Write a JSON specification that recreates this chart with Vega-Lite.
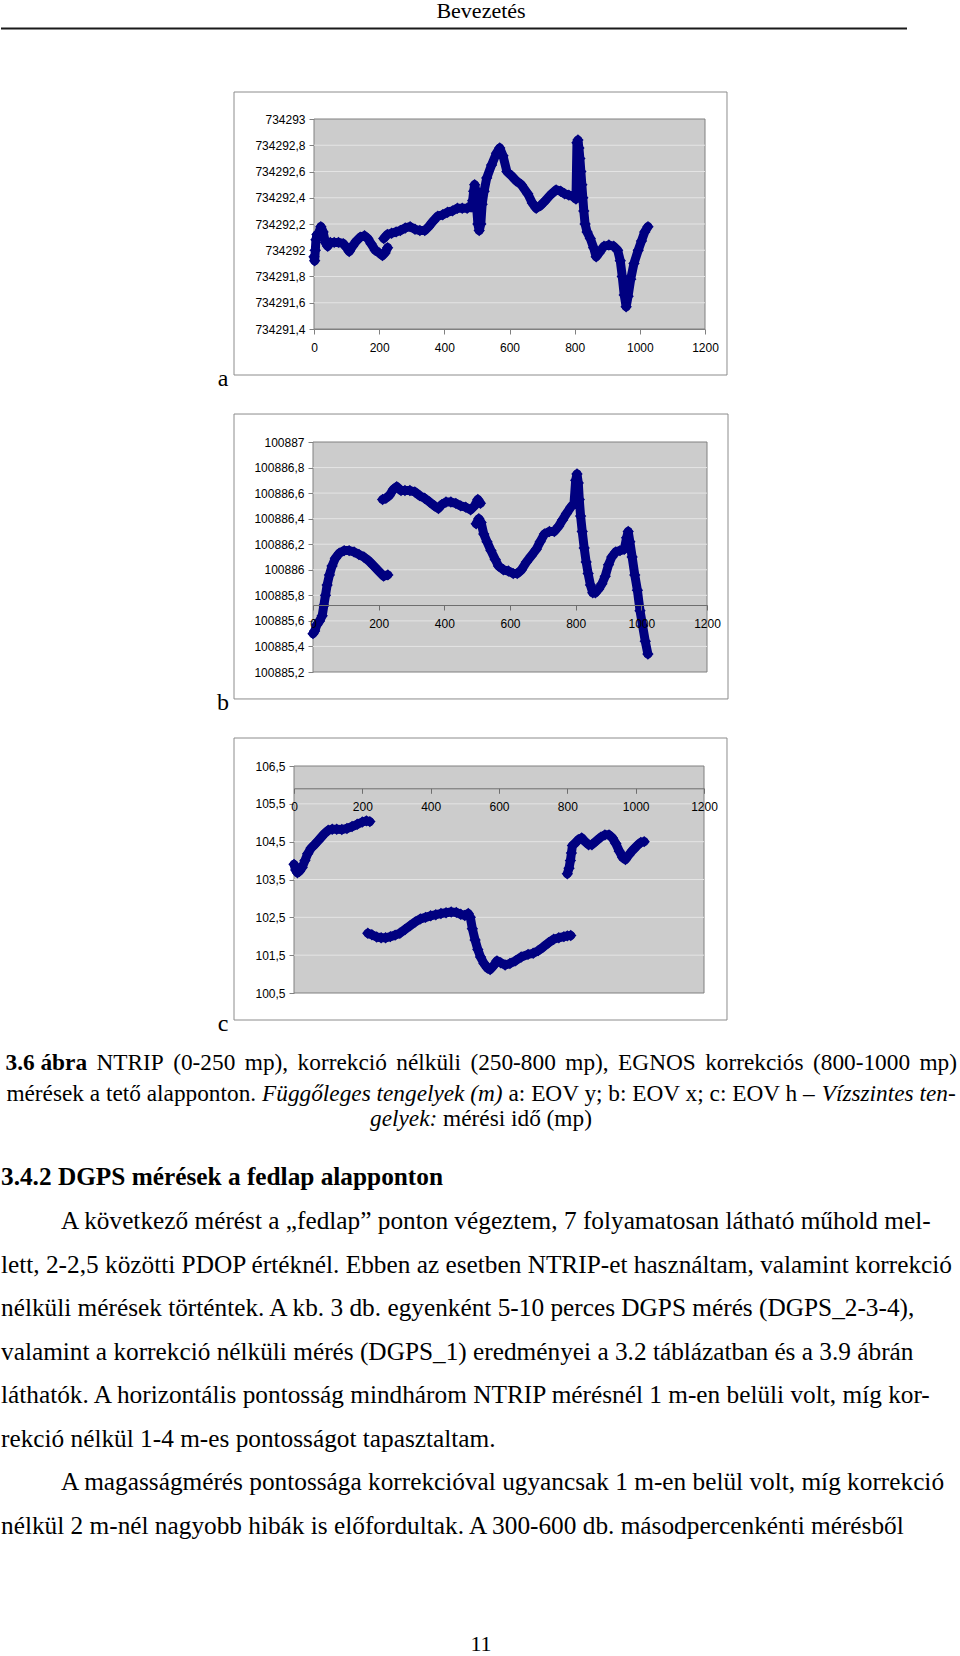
{
  "$schema": "https://vega.github.io/schema/vega-lite/v6.json",
  "background": "white",
  "padding": 0,
  "bounds": "flush",
  "spacing": 0,
  "config": {"view": {"stroke": null}, "axis": {"labelOverlap": false, "labelFlush": false, "labelFont": "Liberation Sans", "labelFontSize": 12, "labelColor": "#000", "tickSize": 5, "tickCount": 30}},
  "datasets": {
    "a": [
      {"seg":1,"t":0,"v":734291.95},{"seg":1,"t":2,"v":734291.92},{"seg":1,"t":4,"v":734292.0},{"seg":1,"t":6,"v":734292.08},{"seg":1,"t":9,"v":734292.12},{"seg":1,"t":14,"v":734292.13},{"seg":1,"t":21,"v":734292.18},{"seg":1,"t":28,"v":734292.14},{"seg":1,"t":35,"v":734292.06},{"seg":1,"t":42,"v":734292.03},{"seg":1,"t":50,"v":734292.06},{"seg":1,"t":62,"v":734292.06},{"seg":1,"t":75,"v":734292.06},{"seg":1,"t":90,"v":734292.05},{"seg":1,"t":100,"v":734292.02},{"seg":1,"t":108,"v":734291.99},{"seg":1,"t":118,"v":734292.03},{"seg":1,"t":130,"v":734292.07},{"seg":1,"t":142,"v":734292.1},{"seg":1,"t":155,"v":734292.11},{"seg":1,"t":165,"v":734292.09},{"seg":1,"t":175,"v":734292.05},{"seg":1,"t":188,"v":734292.0},{"seg":1,"t":200,"v":734291.98},{"seg":1,"t":210,"v":734291.96},{"seg":1,"t":218,"v":734291.98},{"seg":1,"t":226,"v":734292.02},
      {"seg":2,"t":214,"v":734292.09},{"seg":2,"t":225,"v":734292.12},{"seg":2,"t":238,"v":734292.13},{"seg":2,"t":252,"v":734292.14},{"seg":2,"t":265,"v":734292.15},{"seg":2,"t":280,"v":734292.17},{"seg":2,"t":295,"v":734292.18},{"seg":2,"t":310,"v":734292.16},{"seg":2,"t":325,"v":734292.15},{"seg":2,"t":340,"v":734292.15},{"seg":2,"t":352,"v":734292.18},{"seg":2,"t":365,"v":734292.22},{"seg":2,"t":380,"v":734292.26},{"seg":2,"t":395,"v":734292.27},{"seg":2,"t":410,"v":734292.29},{"seg":2,"t":425,"v":734292.3},{"seg":2,"t":440,"v":734292.32},{"seg":2,"t":455,"v":734292.32},{"seg":2,"t":470,"v":734292.32},{"seg":2,"t":482,"v":734292.33},{"seg":2,"t":487,"v":734292.38},{"seg":2,"t":490,"v":734292.45},{"seg":2,"t":493,"v":734292.5},{"seg":2,"t":497,"v":734292.45},{"seg":2,"t":500,"v":734292.3},{"seg":2,"t":503,"v":734292.2},{"seg":2,"t":507,"v":734292.15},{"seg":2,"t":512,"v":734292.2},{"seg":2,"t":516,"v":734292.35},{"seg":2,"t":522,"v":734292.45},{"seg":2,"t":530,"v":734292.55},{"seg":2,"t":545,"v":734292.65},{"seg":2,"t":560,"v":734292.74},{"seg":2,"t":570,"v":734292.78},{"seg":2,"t":580,"v":734292.72},{"seg":2,"t":592,"v":734292.6},{"seg":2,"t":605,"v":734292.57},{"seg":2,"t":620,"v":734292.53},{"seg":2,"t":636,"v":734292.5},{"seg":2,"t":656,"v":734292.43},{"seg":2,"t":670,"v":734292.36},{"seg":2,"t":682,"v":734292.32},{"seg":2,"t":695,"v":734292.34},{"seg":2,"t":707,"v":734292.37},{"seg":2,"t":725,"v":734292.42},{"seg":2,"t":743,"v":734292.46},{"seg":2,"t":757,"v":734292.45},{"seg":2,"t":769,"v":734292.43},{"seg":2,"t":782,"v":734292.42},{"seg":2,"t":795,"v":734292.41},{"seg":2,"t":804,"v":734292.39},{"seg":2,"t":807,"v":734292.82},{"seg":2,"t":810,"v":734292.84},{"seg":2,"t":813,"v":734292.78},{"seg":2,"t":816,"v":734292.7},{"seg":2,"t":819,"v":734292.6},{"seg":2,"t":822,"v":734292.5},{"seg":2,"t":825,"v":734292.4},{"seg":2,"t":828,"v":734292.3},{"seg":2,"t":832,"v":734292.2},{"seg":2,"t":838,"v":734292.14},{"seg":2,"t":848,"v":734292.09},{"seg":2,"t":858,"v":734292.02},{"seg":2,"t":866,"v":734291.95},{"seg":2,"t":875,"v":734291.98},{"seg":2,"t":890,"v":734292.03},{"seg":2,"t":905,"v":734292.04},{"seg":2,"t":920,"v":734292.03},{"seg":2,"t":932,"v":734292.0},{"seg":2,"t":940,"v":734291.92},{"seg":2,"t":946,"v":734291.8},{"seg":2,"t":952,"v":734291.66},{"seg":2,"t":958,"v":734291.57},{"seg":2,"t":964,"v":734291.65},{"seg":2,"t":972,"v":734291.78},{"seg":2,"t":982,"v":734291.9},{"seg":2,"t":995,"v":734292.0},{"seg":2,"t":1005,"v":734292.07},{"seg":2,"t":1015,"v":734292.14},{"seg":2,"t":1025,"v":734292.18}
    ],
    "b": [
      {"seg":1,"t":0,"v":100885.5},{"seg":1,"t":5,"v":100885.52},{"seg":1,"t":12,"v":100885.57},{"seg":1,"t":20,"v":100885.6},{"seg":1,"t":28,"v":100885.64},{"seg":1,"t":33,"v":100885.72},{"seg":1,"t":38,"v":100885.8},{"seg":1,"t":43,"v":100885.88},{"seg":1,"t":50,"v":100885.96},{"seg":1,"t":58,"v":100886.03},{"seg":1,"t":68,"v":100886.09},{"seg":1,"t":80,"v":100886.13},{"seg":1,"t":95,"v":100886.15},{"seg":1,"t":110,"v":100886.15},{"seg":1,"t":125,"v":100886.14},{"seg":1,"t":140,"v":100886.12},{"seg":1,"t":155,"v":100886.1},{"seg":1,"t":170,"v":100886.07},{"seg":1,"t":185,"v":100886.03},{"seg":1,"t":200,"v":100885.99},{"seg":1,"t":215,"v":100885.95},{"seg":1,"t":228,"v":100885.96},
      {"seg":2,"t":212,"v":100886.55},{"seg":2,"t":222,"v":100886.56},{"seg":2,"t":232,"v":100886.58},{"seg":2,"t":245,"v":100886.63},{"seg":2,"t":255,"v":100886.65},{"seg":2,"t":268,"v":100886.62},{"seg":2,"t":280,"v":100886.62},{"seg":2,"t":295,"v":100886.62},{"seg":2,"t":310,"v":100886.61},{"seg":2,"t":325,"v":100886.58},{"seg":2,"t":340,"v":100886.56},{"seg":2,"t":355,"v":100886.53},{"seg":2,"t":370,"v":100886.5},{"seg":2,"t":382,"v":100886.48},{"seg":2,"t":392,"v":100886.51},{"seg":2,"t":405,"v":100886.53},{"seg":2,"t":420,"v":100886.53},{"seg":2,"t":435,"v":100886.52},{"seg":2,"t":450,"v":100886.5},{"seg":2,"t":465,"v":100886.49},{"seg":2,"t":480,"v":100886.47},{"seg":2,"t":492,"v":100886.5},{"seg":2,"t":502,"v":100886.55},{"seg":2,"t":510,"v":100886.52},
      {"seg":3,"t":497,"v":100886.36},{"seg":3,"t":505,"v":100886.4},{"seg":3,"t":512,"v":100886.37},{"seg":3,"t":520,"v":100886.28},{"seg":3,"t":530,"v":100886.22},{"seg":3,"t":542,"v":100886.15},{"seg":3,"t":555,"v":100886.08},{"seg":3,"t":565,"v":100886.03},{"seg":3,"t":580,"v":100886.0},{"seg":3,"t":595,"v":100885.99},{"seg":3,"t":610,"v":100885.97},{"seg":3,"t":622,"v":100885.97},{"seg":3,"t":635,"v":100886.0},{"seg":3,"t":650,"v":100886.06},{"seg":3,"t":665,"v":100886.11},{"seg":3,"t":680,"v":100886.16},{"seg":3,"t":692,"v":100886.22},{"seg":3,"t":705,"v":100886.28},{"seg":3,"t":720,"v":100886.3},{"seg":3,"t":735,"v":100886.3},{"seg":3,"t":748,"v":100886.34},{"seg":3,"t":760,"v":100886.39},{"seg":3,"t":772,"v":100886.44},{"seg":3,"t":785,"v":100886.49},{"seg":3,"t":795,"v":100886.52},{"seg":3,"t":800,"v":100886.7},{"seg":3,"t":804,"v":100886.75},{"seg":3,"t":808,"v":100886.68},{"seg":3,"t":811,"v":100886.55},{"seg":3,"t":815,"v":100886.42},{"seg":3,"t":820,"v":100886.3},{"seg":3,"t":826,"v":100886.17},{"seg":3,"t":832,"v":100886.06},{"seg":3,"t":838,"v":100885.97},{"seg":3,"t":845,"v":100885.88},{"seg":3,"t":852,"v":100885.82},{"seg":3,"t":860,"v":100885.82},{"seg":3,"t":870,"v":100885.85},{"seg":3,"t":880,"v":100885.89},{"seg":3,"t":890,"v":100885.95},{"seg":3,"t":900,"v":100886.04},{"seg":3,"t":910,"v":100886.1},{"seg":3,"t":922,"v":100886.14},{"seg":3,"t":935,"v":100886.15},{"seg":3,"t":948,"v":100886.16},{"seg":3,"t":955,"v":100886.25},{"seg":3,"t":960,"v":100886.3},{"seg":3,"t":965,"v":100886.22},{"seg":3,"t":972,"v":100886.1},{"seg":3,"t":980,"v":100885.96},{"seg":3,"t":988,"v":100885.84},{"seg":3,"t":996,"v":100885.68},{"seg":3,"t":1004,"v":100885.56},{"seg":3,"t":1012,"v":100885.44},{"seg":3,"t":1020,"v":100885.34}
    ],
    "c": [
      {"seg":1,"t":0,"v":103.9},{"seg":1,"t":5,"v":103.75},{"seg":1,"t":10,"v":103.68},{"seg":1,"t":16,"v":103.72},{"seg":1,"t":24,"v":103.82},{"seg":1,"t":32,"v":104.0},{"seg":1,"t":40,"v":104.18},{"seg":1,"t":50,"v":104.33},{"seg":1,"t":60,"v":104.42},{"seg":1,"t":70,"v":104.52},{"seg":1,"t":80,"v":104.62},{"seg":1,"t":90,"v":104.72},{"seg":1,"t":100,"v":104.8},{"seg":1,"t":112,"v":104.83},{"seg":1,"t":125,"v":104.83},{"seg":1,"t":140,"v":104.82},{"seg":1,"t":155,"v":104.85},{"seg":1,"t":170,"v":104.9},{"seg":1,"t":185,"v":104.96},{"seg":1,"t":200,"v":105.02},{"seg":1,"t":212,"v":105.05},{"seg":1,"t":222,"v":105.03},
      {"seg":2,"t":216,"v":102.08},{"seg":2,"t":228,"v":102.04},{"seg":2,"t":242,"v":101.98},{"seg":2,"t":255,"v":101.96},{"seg":2,"t":268,"v":101.96},{"seg":2,"t":282,"v":101.99},{"seg":2,"t":296,"v":102.03},{"seg":2,"t":310,"v":102.08},{"seg":2,"t":325,"v":102.18},{"seg":2,"t":340,"v":102.28},{"seg":2,"t":355,"v":102.38},{"seg":2,"t":370,"v":102.46},{"seg":2,"t":385,"v":102.5},{"seg":2,"t":400,"v":102.54},{"seg":2,"t":415,"v":102.57},{"seg":2,"t":430,"v":102.6},{"seg":2,"t":445,"v":102.62},{"seg":2,"t":460,"v":102.64},{"seg":2,"t":475,"v":102.63},{"seg":2,"t":488,"v":102.58},{"seg":2,"t":500,"v":102.55},{"seg":2,"t":510,"v":102.6},{"seg":2,"t":516,"v":102.5},{"seg":2,"t":522,"v":102.2},{"seg":2,"t":530,"v":101.9},{"seg":2,"t":538,"v":101.65},{"seg":2,"t":546,"v":101.45},{"seg":2,"t":556,"v":101.28},{"seg":2,"t":566,"v":101.16},{"seg":2,"t":574,"v":101.12},{"seg":2,"t":584,"v":101.22},{"seg":2,"t":594,"v":101.35},{"seg":2,"t":605,"v":101.3},{"seg":2,"t":618,"v":101.24},{"seg":2,"t":632,"v":101.28},{"seg":2,"t":648,"v":101.35},{"seg":2,"t":665,"v":101.45},{"seg":2,"t":685,"v":101.52},{"seg":2,"t":700,"v":101.55},{"seg":2,"t":715,"v":101.62},{"seg":2,"t":730,"v":101.72},{"seg":2,"t":745,"v":101.83},{"seg":2,"t":760,"v":101.92},{"seg":2,"t":775,"v":101.96},{"seg":2,"t":790,"v":101.99},{"seg":2,"t":800,"v":102.01},{"seg":2,"t":810,"v":102.02},
      {"seg":3,"t":800,"v":103.65},{"seg":3,"t":805,"v":103.8},{"seg":3,"t":809,"v":104.0},{"seg":3,"t":812,"v":104.2},{"seg":3,"t":815,"v":104.4},{"seg":3,"t":822,"v":104.45},{"seg":3,"t":832,"v":104.55},{"seg":3,"t":842,"v":104.6},{"seg":3,"t":852,"v":104.5},{"seg":3,"t":862,"v":104.42},{"seg":3,"t":872,"v":104.42},{"seg":3,"t":885,"v":104.52},{"seg":3,"t":898,"v":104.62},{"seg":3,"t":910,"v":104.68},{"seg":3,"t":922,"v":104.68},{"seg":3,"t":932,"v":104.6},{"seg":3,"t":942,"v":104.45},{"seg":3,"t":952,"v":104.25},{"seg":3,"t":962,"v":104.08},{"seg":3,"t":970,"v":104.03},{"seg":3,"t":980,"v":104.15},{"seg":3,"t":992,"v":104.28},{"seg":3,"t":1005,"v":104.4},{"seg":3,"t":1015,"v":104.48},{"seg":3,"t":1025,"v":104.5}
    ]
  },
  "vconcat": [
    {
      "width": 960, "height": 119,
      "data": {"values": [{"text": "Bevezetés"}]},
      "layer": [
        {"mark": {"type": "text", "font": "Liberation Serif", "fontSize": 22, "baseline": "top", "align": "center", "x": 480, "y": 1, "color": "#000"}, "encoding": {"text": {"field": "text"}}},
        {"mark": {"type": "rule", "strokeWidth": 1.8, "color": "#1a1a1a"}, "encoding": {"x": {"value": 0}, "x2": {"value": 906}, "y": {"value": 28.5}}}
      ]
    },
    {
      "width": 960, "height": 210,
      "layer": [
        {"data": {"values": [{}]}, "mark": {"type": "rect", "fill": null, "stroke": "#8c8c8c", "strokeWidth": 1},
         "encoding": {
           "x": {"datum": -245.5, "type": "quantitative", "scale": {"domain": [0, 1200], "range": [313, 704], "nice": false, "zero": false}, "axis": {"values": [0,200,400,600,800,1000,1200], "tickCount": 30, "format": "d", "title": null, "grid": false, "zindex": 1, "domainColor": "#808080", "tickColor": "#808080", "labelPadding": 8, "labelOverlap": false}},
           "x2": {"datum": 1267.5},
           "y": {"datum": 734293.2057, "type": "quantitative", "scale": {"domain": [734291.4, 734293], "range": [210, 0], "nice": false, "zero": false}, "axis": {"values": [734291.4,734291.6,734291.8,734292,734292.2,734292.4,734292.6,734292.8,734293], "tickCount": 30, "offset": -313, "title": null, "grid": false, "domain": false, "tickColor": "#808080", "labelPadding": 4, "labelOverlap": false, "labelExpr": "replace(format(datum.value, '.1~f'), '.', ',')"}},
           "y2": {"datum": 734291.0495}
         }},
        {"data": {"values": [{}]}, "mark": {"type": "rect", "fill": "#cccccc", "stroke": "#808080", "strokeWidth": 1},
         "encoding": {"x": {"datum": 0, "type": "quantitative"}, "x2": {"datum": 1200}, "y": {"datum": 734291.4, "type": "quantitative"}, "y2": {"datum": 734293}}},
        {"data": {"values": [{"g": 734291.6},{"g": 734291.8},{"g": 734292},{"g": 734292.2},{"g": 734292.4},{"g": 734292.6},{"g": 734292.8}]}, "mark": {"type": "rule", "color": "#e4e4e4", "strokeWidth": 1},
         "encoding": {"x": {"datum": 0, "type": "quantitative"}, "x2": {"datum": 1200}, "y": {"field": "g", "type": "quantitative", "title": null}}},
        {"data": {"name": "a"}, "mark": {"type": "line", "color": "#000080", "strokeWidth": 9, "strokeJoin": "round", "strokeCap": "round"},
         "encoding": {"x": {"field": "t", "type": "quantitative", "title": null}, "y": {"field": "v", "type": "quantitative", "title": null}, "detail": {"field": "seg"}}},
        {"data": {"name": "a"}, "mark": {"type": "point", "shape": "diamond", "filled": true, "size": 130, "color": "#000080", "opacity": 1},
         "encoding": {"x": {"field": "t", "type": "quantitative", "title": null}, "y": {"field": "v", "type": "quantitative", "title": null}}}
      ]
    },
    {
      "width": 960, "height": 113,
      "data": {"values": [{"label": "a"}]},
      "mark": {"type": "text", "font": "Liberation Serif", "fontSize": 24, "align": "center", "baseline": "alphabetic", "x": 222, "y": 57, "color": "#000"},
      "encoding": {"text": {"field": "label"}}
    },
    {
      "width": 960, "height": 230,
      "layer": [
        {"data": {"values": [{}]}, "mark": {"type": "rect", "fill": null, "stroke": "#8c8c8c", "strokeWidth": 1},
         "encoding": {
           "x": {"datum": -240.6, "type": "quantitative", "scale": {"domain": [0, 1200], "range": [312, 706], "nice": false, "zero": false}, "axis": {"values": [0,200,400,600,800,1000,1200], "tickCount": 30, "format": "d", "title": null, "grid": false, "offset": -67, "zindex": 1, "domainColor": "#6e6e6e", "tickColor": "#6e6e6e", "labelPadding": 8, "labelOverlap": false}},
           "x2": {"datum": 1264},
           "y": {"datum": 100887.219, "type": "quantitative", "scale": {"domain": [100885.2, 100887], "range": [230, 0], "nice": false, "zero": false}, "axis": {"values": [100885.2,100885.4,100885.6,100885.8,100886,100886.2,100886.4,100886.6,100886.8,100887], "tickCount": 30, "offset": -312, "title": null, "grid": false, "domain": false, "tickColor": "#808080", "labelPadding": 4, "labelOverlap": false, "labelExpr": "replace(format(datum.value, '.1~f'), '.', ',')"}},
           "y2": {"datum": 100884.989}
         }},
        {"data": {"values": [{}]}, "mark": {"type": "rect", "fill": "#cccccc", "stroke": "#808080", "strokeWidth": 1},
         "encoding": {"x": {"datum": 0, "type": "quantitative"}, "x2": {"datum": 1200}, "y": {"datum": 100885.2, "type": "quantitative"}, "y2": {"datum": 100887}}},
        {"data": {"values": [{"g": 100885.4},{"g": 100885.6},{"g": 100885.8},{"g": 100886},{"g": 100886.2},{"g": 100886.4},{"g": 100886.6},{"g": 100886.8}]}, "mark": {"type": "rule", "color": "#e4e4e4", "strokeWidth": 1},
         "encoding": {"x": {"datum": 0, "type": "quantitative"}, "x2": {"datum": 1200}, "y": {"field": "g", "type": "quantitative", "title": null}}},
        {"data": {"name": "b"}, "mark": {"type": "line", "color": "#000080", "strokeWidth": 9, "strokeJoin": "round", "strokeCap": "round"},
         "encoding": {"x": {"field": "t", "type": "quantitative", "title": null}, "y": {"field": "v", "type": "quantitative", "title": null}, "detail": {"field": "seg"}}},
        {"data": {"name": "b"}, "mark": {"type": "point", "shape": "diamond", "filled": true, "size": 130, "color": "#000080", "opacity": 1},
         "encoding": {"x": {"field": "t", "type": "quantitative", "title": null}, "y": {"field": "v", "type": "quantitative", "title": null}}}
      ]
    },
    {
      "width": 960, "height": 94,
      "data": {"values": [{"label": "b"}]},
      "mark": {"type": "text", "font": "Liberation Serif", "fontSize": 24, "align": "center", "baseline": "alphabetic", "x": 222, "y": 38, "color": "#000"},
      "encoding": {"text": {"field": "label"}}
    },
    {
      "width": 960, "height": 227,
      "layer": [
        {"data": {"values": [{}]}, "mark": {"type": "rect", "fill": null, "stroke": "#8c8c8c", "strokeWidth": 1},
         "encoding": {
           "x": {"datum": -175.6, "type": "quantitative", "scale": {"domain": [0, 1200], "range": [293, 703], "nice": false, "zero": false}, "axis": {"values": [0,200,400,600,800,1000,1200], "tickCount": 30, "format": "d", "title": null, "grid": false, "offset": -204.7, "zindex": 1, "domainColor": "#6e6e6e", "tickColor": "#6e6e6e", "labelPadding": 8, "labelOverlap": false}},
           "x2": {"datum": 1267.3},
           "y": {"datum": 107.24, "type": "quantitative", "scale": {"domain": [100.5, 106.5], "range": [227, 0], "nice": false, "zero": false}, "axis": {"values": [100.5,101.5,102.5,103.5,104.5,105.5,106.5], "tickCount": 30, "offset": -293, "title": null, "grid": false, "domain": false, "tickColor": "#808080", "labelPadding": 4, "labelOverlap": false, "labelExpr": "replace(format(datum.value, '.1~f'), '.', ',')"}},
           "y2": {"datum": 99.786}
         }},
        {"data": {"values": [{}]}, "mark": {"type": "rect", "fill": "#cccccc", "stroke": "#808080", "strokeWidth": 1},
         "encoding": {"x": {"datum": 0, "type": "quantitative"}, "x2": {"datum": 1200}, "y": {"datum": 100.5, "type": "quantitative"}, "y2": {"datum": 106.5}}},
        {"data": {"values": [{"g": 101.5},{"g": 102.5},{"g": 103.5},{"g": 104.5},{"g": 105.5}]}, "mark": {"type": "rule", "color": "#e4e4e4", "strokeWidth": 1},
         "encoding": {"x": {"datum": 0, "type": "quantitative"}, "x2": {"datum": 1200}, "y": {"field": "g", "type": "quantitative", "title": null}}},
        {"data": {"name": "c"}, "mark": {"type": "line", "color": "#000080", "strokeWidth": 9, "strokeJoin": "round", "strokeCap": "round"},
         "encoding": {"x": {"field": "t", "type": "quantitative", "title": null}, "y": {"field": "v", "type": "quantitative", "title": null}, "detail": {"field": "seg"}}},
        {"data": {"name": "c"}, "mark": {"type": "point", "shape": "diamond", "filled": true, "size": 130, "color": "#000080", "opacity": 1},
         "encoding": {"x": {"field": "t", "type": "quantitative", "title": null}, "y": {"field": "v", "type": "quantitative", "title": null}}}
      ]
    },
    {
      "width": 960, "height": 663,
      "encoding": {
        "y": {"field": "line", "type": "quantitative", "scale": {"domain": [-1, 0, 1, 2, 3, 4, 11, 12], "range": [38, 77, 108, 133, 192, 236, 541, 658], "nice": false, "zero": false}, "axis": null},
        "text": {"field": "text"}
      },
      "layer": [
        {"data": {"values": [{"line": -1, "text": "c"}]}, "mark": {"type": "text", "font": "Liberation Serif", "fontSize": 24, "align": "center", "baseline": "alphabetic", "x": 222, "color": "#000"}},
        {"data": {"values": [{"line": 0, "text": "3.6 ábra"}]}, "mark": {"type": "text", "font": "Liberation Serif", "fontSize": 23.3, "fontWeight": "bold", "align": "left", "baseline": "alphabetic", "x": 4.5, "color": "#000"}},
        {"data": {"values": [{"line": 0, "text": "NTRIP"}]}, "mark": {"type": "text", "font": "Liberation Serif", "fontSize": 23.3, "align": "left", "baseline": "alphabetic", "x": 95.5, "color": "#000"}},
        {"data": {"values": [{"line": 0, "text": "(0-250"}]}, "mark": {"type": "text", "font": "Liberation Serif", "fontSize": 23.3, "align": "left", "baseline": "alphabetic", "x": 172.2, "color": "#000"}},
        {"data": {"values": [{"line": 0, "text": "mp),"}]}, "mark": {"type": "text", "font": "Liberation Serif", "fontSize": 23.3, "align": "left", "baseline": "alphabetic", "x": 243.8, "color": "#000"}},
        {"data": {"values": [{"line": 0, "text": "korrekció"}]}, "mark": {"type": "text", "font": "Liberation Serif", "fontSize": 23.3, "align": "left", "baseline": "alphabetic", "x": 296.6, "color": "#000"}},
        {"data": {"values": [{"line": 0, "text": "nélküli"}]}, "mark": {"type": "text", "font": "Liberation Serif", "fontSize": 23.3, "align": "left", "baseline": "alphabetic", "x": 395.3, "color": "#000"}},
        {"data": {"values": [{"line": 0, "text": "(250-800"}]}, "mark": {"type": "text", "font": "Liberation Serif", "fontSize": 23.3, "align": "left", "baseline": "alphabetic", "x": 469.4, "color": "#000"}},
        {"data": {"values": [{"line": 0, "text": "mp),"}]}, "mark": {"type": "text", "font": "Liberation Serif", "fontSize": 23.3, "align": "left", "baseline": "alphabetic", "x": 564.3, "color": "#000"}},
        {"data": {"values": [{"line": 0, "text": "EGNOS"}]}, "mark": {"type": "text", "font": "Liberation Serif", "fontSize": 23.3, "align": "left", "baseline": "alphabetic", "x": 617.1, "color": "#000"}},
        {"data": {"values": [{"line": 0, "text": "korrekciós"}]}, "mark": {"type": "text", "font": "Liberation Serif", "fontSize": 23.3, "align": "left", "baseline": "alphabetic", "x": 704.2, "color": "#000"}},
        {"data": {"values": [{"line": 0, "text": "(800-1000"}]}, "mark": {"type": "text", "font": "Liberation Serif", "fontSize": 23.3, "align": "left", "baseline": "alphabetic", "x": 812, "color": "#000"}},
        {"data": {"values": [{"line": 0, "text": "mp)"}]}, "mark": {"type": "text", "font": "Liberation Serif", "fontSize": 23.3, "align": "left", "baseline": "alphabetic", "x": 918.5, "color": "#000"}},
        {"data": {"values": [{"line": 1, "text": "mérések a tető alapponton."}]}, "mark": {"type": "text", "font": "Liberation Serif", "fontSize": 23.3, "align": "left", "baseline": "alphabetic", "x": 5.4, "color": "#000"}},
        {"data": {"values": [{"line": 1, "text": "Függőleges tengelyek (m)"}]}, "mark": {"type": "text", "font": "Liberation Serif", "fontSize": 23.3, "fontStyle": "italic", "align": "left", "baseline": "alphabetic", "x": 261, "color": "#000"}},
        {"data": {"values": [{"line": 1, "text": "a: EOV y; b: EOV x; c: EOV h –"}]}, "mark": {"type": "text", "font": "Liberation Serif", "fontSize": 23.3, "align": "left", "baseline": "alphabetic", "x": 507.5, "color": "#000"}},
        {"data": {"values": [{"line": 1, "text": "Vízszintes ten-"}]}, "mark": {"type": "text", "font": "Liberation Serif", "fontSize": 23.3, "fontStyle": "italic", "align": "left", "baseline": "alphabetic", "x": 820.7, "color": "#000"}},
        {"data": {"values": [{"line": 2, "text": "gelyek:"}]}, "mark": {"type": "text", "font": "Liberation Serif", "fontSize": 23.3, "fontStyle": "italic", "align": "left", "baseline": "alphabetic", "x": 369, "color": "#000"}},
        {"data": {"values": [{"line": 2, "text": "mérési idő (mp)"}]}, "mark": {"type": "text", "font": "Liberation Serif", "fontSize": 23.3, "align": "left", "baseline": "alphabetic", "x": 442.1, "color": "#000"}},
        {"data": {"values": [{"line": 3, "text": "3.4.2 DGPS mérések a fedlap alapponton"}]}, "mark": {"type": "text", "font": "Liberation Serif", "fontSize": 25.3, "fontWeight": "bold", "align": "left", "baseline": "alphabetic", "x": 0, "color": "#000"}},
        {"data": {"values": [
          {"line": 4, "text": "A következő mérést a „fedlap” ponton végeztem, 7 folyamatosan látható műhold mel-"},
          {"line": 10, "text": "A magasságmérés pontossága korrekcióval ugyancsak 1 m-en belül volt, míg korrekció"}
        ]}, "mark": {"type": "text", "font": "Liberation Serif", "fontSize": 25.3, "align": "left", "baseline": "alphabetic", "x": 60, "color": "#000"}},
        {"data": {"values": [
          {"line": 5, "text": "lett, 2-2,5 közötti PDOP értéknél. Ebben az esetben NTRIP-et használtam, valamint korrekció"},
          {"line": 6, "text": "nélküli mérések történtek. A kb. 3 db. egyenként 5-10 perces DGPS mérés (DGPS_2-3-4),"},
          {"line": 7, "text": "valamint a korrekció nélküli mérés (DGPS_1) eredményei a 3.2 táblázatban és a 3.9 ábrán"},
          {"line": 8, "text": "láthatók. A horizontális pontosság mindhárom NTRIP mérésnél 1 m-en belüli volt, míg kor-"},
          {"line": 9, "text": "rekció nélkül 1-4 m-es pontosságot tapasztaltam."},
          {"line": 11, "text": "nélkül 2 m-nél nagyobb hibák is előfordultak. A 300-600 db. másodpercenkénti mérésből"}
        ]}, "mark": {"type": "text", "font": "Liberation Serif", "fontSize": 25.3, "align": "left", "baseline": "alphabetic", "x": 0, "color": "#000"}},
        {"data": {"values": [{"line": 12, "text": "11"}]}, "mark": {"type": "text", "font": "Liberation Serif", "fontSize": 22, "align": "center", "baseline": "alphabetic", "x": 480, "color": "#000"}}
      ]
    }
  ]
}
